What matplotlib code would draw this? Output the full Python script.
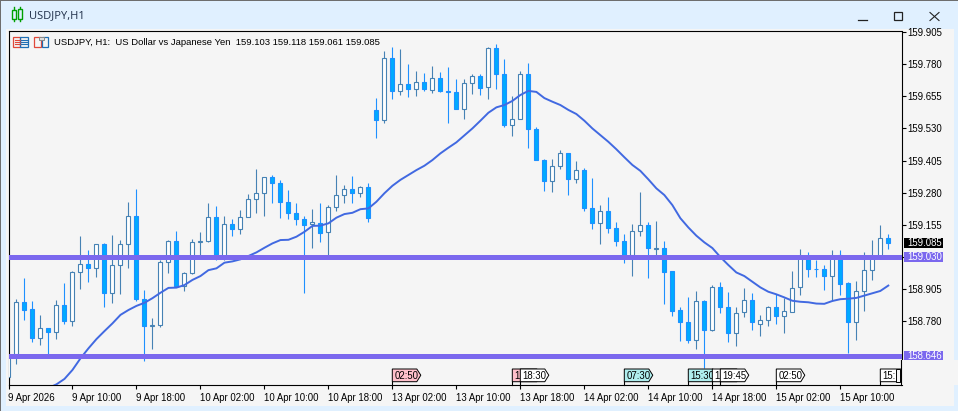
import matplotlib
matplotlib.use("Agg")
import matplotlib.pyplot as plt
from matplotlib.patches import Rectangle, Polygon
import numpy as np

W, H = 958, 411

opens = [158.564,158.652,158.854,158.827,158.716,158.753,158.737,158.842,158.782,158.970,
159.002,158.986,159.079,158.891,158.998,159.079,159.188,158.868,158.761,158.764,
159.009,159.091,158.919,158.967,159.089,159.091,159.184,159.030,159.157,159.138,
159.184,159.255,159.278,159.340,159.317,159.243,159.200,159.177,159.157,159.161,
159.126,159.223,159.270,159.293,159.278,159.301,159.600,159.562,159.803,159.674,
159.702,159.682,159.709,159.678,159.725,159.674,159.671,159.604,159.705,159.733,
159.690,159.842,159.740,159.544,159.565,159.740,159.527,159.406,159.324,159.383,
159.433,159.332,159.367,159.219,159.161,159.208,159.142,159.091,159.038,159.130,
159.153,159.062,159.064,158.974,158.823,158.776,158.709,158.858,158.745,158.912,
158.835,158.733,158.815,158.862,158.768,158.784,158.835,158.799,158.815,158.912,
159.026,158.985,158.982,158.957,159.038,158.928,158.776,158.897,158.978,159.030,159.103]
highs = [158.652,158.865,158.949,158.859,158.805,158.754,158.863,158.929,158.977,159.112,
159.057,159.079,159.084,159.116,159.096,159.244,159.295,158.902,158.793,159.018,
159.096,159.131,158.972,159.100,159.127,159.240,159.228,159.190,159.178,159.213,
159.275,159.371,159.340,159.349,159.330,159.291,159.240,159.190,159.217,159.240,
159.232,159.349,159.310,159.345,159.306,159.317,159.647,159.831,159.847,159.839,
159.781,159.753,159.746,159.773,159.750,159.769,159.722,159.721,159.742,159.742,
159.847,159.858,159.800,159.655,159.753,159.784,159.536,159.411,159.410,159.445,
159.433,159.403,159.375,159.337,159.231,159.262,159.165,159.120,159.157,159.283,
159.165,159.170,159.092,158.976,158.835,158.875,158.898,158.862,158.921,158.932,
158.894,158.835,158.910,158.890,158.805,158.838,158.886,158.871,158.976,159.061,
159.048,159.018,158.999,159.057,159.057,158.932,158.937,159.050,159.096,159.155,159.118]
lows = [158.552,158.615,158.785,158.700,158.688,158.649,158.711,158.769,158.763,158.906,
158.933,158.954,158.837,158.852,158.886,158.988,158.860,158.627,158.672,158.758,
158.968,158.914,158.898,158.963,159.030,159.088,159.018,159.018,159.113,159.120,
159.184,159.202,159.190,159.241,159.182,159.178,159.155,158.890,159.065,159.088,
159.034,159.210,159.239,159.239,159.262,159.167,159.494,159.552,159.646,159.661,
159.653,159.657,159.674,159.667,159.671,159.552,159.604,159.565,159.665,159.661,
159.646,159.685,159.537,159.502,159.565,159.455,159.406,159.288,159.284,159.371,
159.272,159.319,159.208,159.138,159.079,159.122,159.072,159.008,158.957,159.113,
158.947,159.030,158.847,158.801,158.703,158.696,158.672,158.598,158.742,158.811,
158.700,158.684,158.796,158.746,158.723,158.763,158.768,158.735,158.815,158.882,
158.952,158.952,158.902,158.859,158.882,158.657,158.707,158.820,158.941,159.030,159.061]
closes = [158.642,158.854,158.825,158.716,158.753,158.737,158.842,158.782,158.970,159.002,
158.986,159.079,158.891,158.998,159.079,159.188,158.868,158.761,158.764,159.009,
159.091,158.919,158.967,159.087,159.092,159.184,159.030,159.157,159.138,159.184,
159.255,159.278,159.340,159.317,159.243,159.200,159.177,159.153,159.165,159.125,
159.223,159.270,159.293,159.278,159.301,159.183,159.562,159.803,159.674,159.702,
159.682,159.709,159.682,159.725,159.674,159.671,159.604,159.705,159.733,159.686,
159.842,159.740,159.544,159.565,159.740,159.527,159.406,159.324,159.383,159.433,
159.332,159.367,159.219,159.161,159.208,159.142,159.091,159.038,159.130,159.153,
159.064,159.064,158.973,158.821,158.776,158.709,158.858,158.745,158.912,158.835,
158.733,158.811,158.862,158.776,158.784,158.835,158.799,158.819,158.908,159.034,
158.982,158.982,158.957,159.026,158.926,158.776,158.897,158.978,159.026,159.103,159.085]
ma_start = 5
ma_values = [158.521,158.535,158.556,158.591,158.636,158.675,158.711,158.742,158.772,158.805,
158.824,158.840,158.852,158.870,158.891,158.910,158.911,158.921,158.941,158.956,
158.979,158.986,159.008,159.013,159.021,159.034,159.048,159.066,159.083,159.096,
159.097,159.109,159.128,159.151,159.152,159.161,159.183,159.197,159.202,159.216,
159.219,159.245,159.278,159.307,159.330,159.349,159.368,159.385,159.407,159.433,
159.455,159.476,159.503,159.530,159.560,159.591,159.612,159.621,159.637,159.660,
159.676,159.672,159.648,159.634,159.621,159.602,159.586,159.560,159.530,159.504,
159.478,159.449,159.418,159.388,159.365,159.332,159.297,159.271,159.232,159.181,
159.145,159.113,159.087,159.065,159.030,158.999,158.970,158.956,158.934,158.912,
158.895,158.885,158.873,158.860,158.856,158.854,158.849,158.848,158.859,158.866,
158.868,158.871,158.880,158.889,158.898,158.919]
level_high = 159.030
level_low = 158.646
last_close = 159.085
y_ticks = [159.905,159.780,159.655,159.530,159.405,159.280,159.155,159.030,158.905,158.780]
x_tick_bars = [0,8,16,24,32,40,48,56,64,72,80,88,96,104]
x_tick_labels = ["9 Apr 2026","9 Apr 10:00","9 Apr 18:00","10 Apr 02:00","10 Apr 10:00",
                 "10 Apr 18:00","13 Apr 02:00","13 Apr 10:00","13 Apr 18:00","14 Apr 02:00",
                 "14 Apr 10:00","14 Apr 18:00","15 Apr 02:00","15 Apr 10:00"]
flag_bars = [48, 63, 64, 77, 85, 88, 89, 96, 109]
flag_text = ["02:50", "1", "18:30", "07:30", "15:30", "1", "19:45", "02:50", "15:"]
flag_color = ["#FFC0CB", "#FFC0CB", "#FFFFFF", "#AFEEEE", "#AFEEEE", "#FFFFFF", "#FFFFFF", "#FFFFFF", "#FFFFFF"]
header = "USDJPY, H1:  US Dollar vs Japanese Yen  159.103 159.118 159.061 159.085"
title = "USDJPY,H1"

BG = "#E0F0FF"
PANEL = "#F5F5F5"
BEAR_FILL = "#00AAFF"
BEAR_LINE = "#1E90FF"
BULL_LINE = "#4682B4"
LEVEL = "#7B68EE"
MA = "#4169E1"
FONT = ["Liberation Sans", "DejaVu Sans"]
FS = 6.9

plt.rcParams["font.family"] = FONT
fig = plt.figure(figsize=(W / 100, H / 100), dpi=100, facecolor=BG)

# window background
bg = fig.add_axes([0, 0, 1, 1], zorder=0)
bg.set_xlim(0, W); bg.set_ylim(H, 0); bg.axis("off")
bg.add_patch(Rectangle((6, 29), 948, 377, fc=PANEL, ec="none"))
bg.add_patch(Rectangle((0, 0), W, 1, fc="#6E6E6E", ec="none"))
bg.add_patch(Rectangle((0, 0), 1, H, fc="#6E6E6E", ec="none"))

# chart
L, R, T, B = 8.5, 901.5, 31.3, 385.3
ax = fig.add_axes([L / W, 1 - B / H, (R - L) / W, (B - T) / H], zorder=1, facecolor=PANEL)
x0, step = 8.3, 8.0
ax.set_xlim((L - x0) / step, (R - x0) / step)
ytop, ybot = 159.9077, 158.5312
ax.set_ylim(ybot, ytop)

n = len(closes)
xs = np.arange(n)
o, h, l, c = map(np.array, (opens, highs, lows, closes))
up = c >= o
ax.vlines(xs[up], l[up], h[up], color=BULL_LINE, lw=0.8, zorder=2)
ax.vlines(xs[~up], l[~up], h[~up], color=BEAR_LINE, lw=0.8, zorder=2)
ax.bar(xs[up], (c - o)[up], bottom=o[up], width=0.5, fc="white", ec=BULL_LINE, lw=0.8, zorder=3)
ax.bar(xs[~up], (c - o)[~up], bottom=o[~up], width=0.5, fc=BEAR_FILL, ec=BEAR_LINE, lw=0.8, zorder=3)
ax.plot(np.arange(ma_start, ma_start + len(ma_values)), ma_values, color=MA, lw=1.4, zorder=4)
ax.axhline(level_high, color=LEVEL, lw=3.6, zorder=5)
ax.axhline(level_low, color=LEVEL, lw=3.6, zorder=5)

for s in ax.spines.values():
    s.set_linewidth(0.8); s.set_color("black")
ax.yaxis.tick_right()
ax.set_yticks(y_ticks)
ax.set_yticklabels([f"{v:.3f}" for v in y_ticks], fontsize=FS)
ax.set_xticks(x_tick_bars)
ax.set_xticklabels(x_tick_labels, fontsize=FS, ha="left")
ax.tick_params(axis="y", length=3, width=0.8, pad=1.5, colors="black")
ax.tick_params(axis="x", length=3, width=0.8, pad=2.5, colors="black")

# overlay in window pixels
ov = fig.add_axes([0, 0, 1, 1], zorder=2)
ov.set_xlim(0, W); ov.set_ylim(H, 0); ov.axis("off"); ov.patch.set_alpha(0)

def yp(p):
    return T + (ytop - p) / (ytop - ybot) * (B - T)

def xp(i):
    return x0 + step * i

for price, col in ((last_close, "black"), (level_high, LEVEL), (level_low, LEVEL)):
    y = yp(price)
    ov.add_patch(Rectangle((904, y - 5.2), 39, 10.4, fc=col, ec="none"))
    ov.text(907, y, f"{price:.3f}", color="white", fontsize=FS, va="center", ha="left")

ov.text(54, 42.5, header, fontsize=6.8, va="center", ha="left", color="black")
ov.text(29.5, 15.5, title, fontsize=8.0, va="center", ha="left", color="#20304A",
        family=["Open Sans", "DejaVu Sans"])

# event flags
for k, (b, t, col) in enumerate(zip(flag_bars, flag_text, flag_color)):
    x = xp(b)
    xe = x + 24.5
    poly = Polygon([(x, 369), (xe, 369), (xe + 4, 375.2), (xe, 381.7), (x, 381.7)],
                   closed=True, fc=col, ec="black", lw=0.7, zorder=3 + k, clip_on=True)
    ov.add_patch(poly)
    ov.plot([x, x], [381.7, B], color="black", lw=0.8, zorder=3 + k)
    ov.text(x + 2, 375.5, t, fontsize=FS, va="center", ha="left", zorder=3 + k)
ov.add_patch(Rectangle((896, 369), 4.5, 13, fc=PANEL, ec="black", lw=0.7, zorder=20))
ov.add_patch(Rectangle((R + 0.5, 360), 60, 25, fc=PANEL, ec="none", zorder=21))
ov.plot([R, R], [360, B], color="black", lw=0.8, zorder=22)

# title bar icon
GREEN = "#00A000"
for xc, yb, yt, wt, wb in ((14.3, 10, 19.3, 7.5, 21), (20, 9, 19, 7.5, 21)):
    ov.plot([xc, xc], [wt, wb], color=GREEN, lw=1.0)
    ov.add_patch(Rectangle((xc - 2, yb), 4.2, yt - yb, fc=BG, ec=GREEN, lw=1.0, zorder=3))

# table and template icons
RED, BLUE = "#E0483A", "#1F6FB5"
ov.add_patch(Rectangle((13.5, 37.5), 7, 10, fc="none", ec=RED, lw=0.9))
ov.add_patch(Rectangle((20.5, 37.5), 7.5, 10, fc="none", ec=BLUE, lw=0.9))
for yy in (40.5, 42.5, 44.5):
    ov.plot([15, 20], [yy, yy], color=RED, lw=0.8)
    ov.plot([21, 27], [yy, yy], color=BLUE, lw=0.8)
ov.add_patch(Rectangle((34.5, 37.5), 6.5, 10, fc="none", ec=RED, lw=0.9))
ov.add_patch(Rectangle((42.2, 37.5), 6.3, 10, fc="none", ec=BLUE, lw=0.9))
ov.add_patch(Rectangle((39, 37), 5, 3, fc="#DDDDDD", ec="#888888", lw=0.7))

# window controls
ov.plot([858, 867], [20, 20], color="#222222", lw=0.9)
ov.add_patch(Rectangle((894.5, 12.5), 8, 8, fc="none", ec="#222222", lw=0.9))
ov.plot([930, 939], [12.5, 20.5], color="#222222", lw=0.8)
ov.plot([930, 939], [20.5, 12.5], color="#222222", lw=0.8)

fig.savefig("out.png", dpi=100, facecolor=BG)
